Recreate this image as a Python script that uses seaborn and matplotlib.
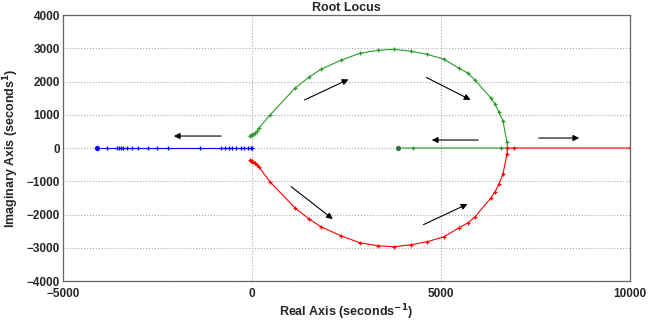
import seaborn as sns
import matplotlib.pyplot as plt
import pandas as pd

# root locus branches (real, imaginary)
blue_re = [0, -30, -100, -200, -300, -420, -530, -610, -710, -820, -1380, -2220,
           -2510, -2750, -3020, -3180, -3310, -3400, -3470, -3520, -3570, -3840, -4100]
blue_im = [0] * len(blue_re)

green_re = [-60, -30, 0, 40, 80, 130, 185, 476, 1138, 1508, 1825, 2354, 2857, 3333,
            3757, 4206, 4630, 5079, 5476, 5714, 5900, 6323, 6429, 6534, 6640, 6746,
            6760, 6587, 4260, 3860]
green_im = [370, 380, 400, 420, 450, 510, 600, 990, 1800, 2130, 2370, 2640, 2850, 2940,
            2970, 2910, 2820, 2670, 2400, 2250, 2040, 1500, 1320, 1080, 810, 180,
            0, 0, 0, 0]

red_re = [-60, -30, 0, 40, 80, 130, 185, 476, 1138, 1508, 1825, 2354, 2857, 3333,
          3757, 4206, 4630, 5079, 5476, 5714, 5900, 6323, 6429, 6534, 6640, 6746,
          6760, 6931, 10000]
red_im = [-370, -380, -400, -420, -450, -510, -570, -1020, -1800, -2130, -2370, -2640,
          -2850, -2940, -2970, -2910, -2820, -2670, -2400, -2250, -2070, -1500, -1320,
          -1080, -780, -180, 0, 0, 0]

zeros_re = [-4100, 3860]
zeros_im = [0, 0]

# arrows: (tail_x, tail_y, head_x, head_y)
arrows = [(-740, 360, -2140, 360),
          (1323, 1410, 2619, 2100),
          (4550, 2160, 5847, 1410),
          (6058, 240, 4683, 240),
          (7513, 300, 8730, 300),
          (979, -1110, 2196, -2190),
          (4471, -2340, 5767, -1650)]

sns.set_style("white")
plt.rcParams['font.family'] = ['Liberation Sans', 'DejaVu Sans']
plt.rcParams['font.weight'] = 'bold'

fig = plt.figure(figsize=(6.58, 3.21), dpi=100)
ax = fig.add_axes([0.0957, 0.1246, 0.8617, 0.8286])

branches = [(blue_re, blue_im, '#0000ff'),
            (green_re, green_im, '#2a9a2a'),
            (red_re, red_im, '#ff0000')]
for re, im, col in branches:
    df = pd.DataFrame({'re': re, 'im': im})
    sns.lineplot(data=df, x='re', y='im', sort=False, estimator=None, color=col,
                 lw=0.8, marker='+', markersize=3.5, markeredgewidth=0.9,
                 markeredgecolor=col, ax=ax)

sns.scatterplot(x=zeros_re[:1], y=zeros_im[:1], color='#0000ff', s=16, ax=ax, zorder=5)
sns.scatterplot(x=zeros_re[1:], y=zeros_im[1:], color='#2a6a4a', s=16, ax=ax, zorder=5)

for x0, y0, x1, y1 in arrows:
    ax.annotate('', xy=(x1, y1), xytext=(x0, y0),
                arrowprops=dict(arrowstyle='-|>', color='black', lw=0.8,
                                mutation_scale=9))

ax.set_xlim(-5000, 10000)
ax.set_ylim(-4000, 4000)
ax.set_xticks([-5000, 0, 5000, 10000])
ax.set_yticks(range(-4000, 4001, 1000))
ax.grid(True, linestyle=':', color='#aaaaaa', lw=0.8)
ax.tick_params(direction='in', length=4, labelsize=8.5, color='#666666')
ax.tick_params(axis='x', pad=5)
ax.tick_params(axis='y', pad=2)
for s in ax.spines.values():
    s.set_color('#666666')
    s.set_linewidth(0.9)

ax.set_title('Root Locus', fontsize=9, fontweight='bold', pad=3)
ax.set_xlabel('Real Axis (seconds$^{\\mathbf{-1}}$)', fontsize=9, fontweight='bold',
              labelpad=2)
ax.set_ylabel('Imaginary Axis (seconds$^{\\mathbf{1}}$)', fontsize=9, fontweight='bold')

fig.savefig('out.png', dpi=100, facecolor='white')
